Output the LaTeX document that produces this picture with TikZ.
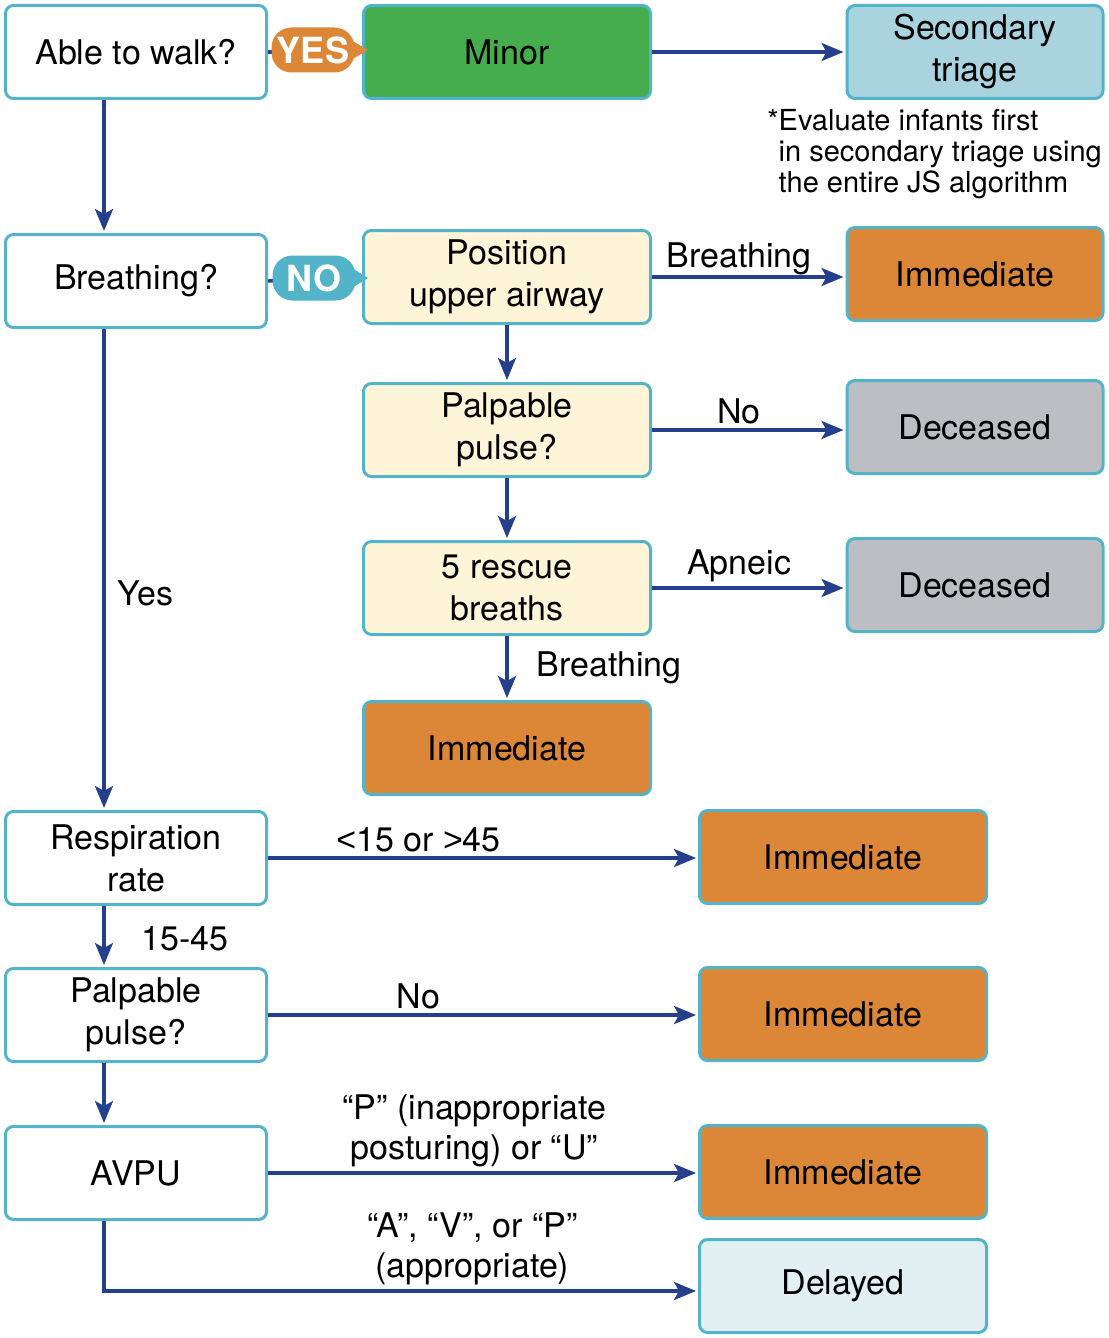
\documentclass[tikz,border=0pt]{standalone}
\usepackage{fontspec}
\setmainfont{TeX Gyre Heros}
\newfontfamily\signfont{Liberation Sans}
\usetikzlibrary{positioning,arrows.meta}

\definecolor{rim}{HTML}{52B3C9}
\definecolor{flow}{HTML}{243F8C}
\definecolor{leaf}{HTML}{46AD4E}
\definecolor{sky}{HTML}{A9D4DF}
\definecolor{tangerine}{HTML}{DC8737}
\definecolor{cream}{HTML}{FEF5D9}
\definecolor{ash}{HTML}{BDBEC1}
\definecolor{frost}{HTML}{E2F0F4}

\begin{document}
\begin{tikzpicture}[x=0.5pt, y=-0.5pt,
    box/.style={rectangle, draw=rim, fill=#1, line width=1.5pt, rounded corners=4pt, minimum width=130.5pt, minimum height=46.5pt, align=center, font=\fontsize{17}{21}\selectfont, inner sep=2pt},
    box/.default=white,
    midbox/.style={box=#1, minimum width=143.5pt},
    sidebox/.style={box=#1, minimum width=128pt},
    tag/.style={fill=#1, rounded corners=10pt, minimum width=41.5pt, minimum height=22.5pt, inner sep=0pt, text=white, font=\bfseries\fontsize{18}{18}\selectfont},
    note/.style={align=left, inner sep=0pt, font=\fontsize{14.5}{15.5}\selectfont},
    lbl/.style={font=\fontsize{17}{20}\selectfont, inner sep=2pt},
    link/.style={draw=flow, line width=1.7pt},
    arrow/.style={link, -{Stealth[length=11pt, width=9pt, inset=2.5pt]}, shorten >=1pt}
]
\useasboundingbox (0,0) rectangle (1108,1338);

% Entry column
\node[box] (walk) at (136,52) {Able to walk?};
\node[box] (breath) at (136,281) {Breathing?};
\node[box] (resp) at (136,858) {Respiration\\rate};
\node[box] (pulseB) at (136,1015) {Palpable\\pulse?};
\node[box] (avpu) at (136,1173) {AVPU};

% Airway column
\node[midbox=leaf] (minor) at (507,52) {Minor};
\node[midbox=cream] (airway) at (507,277) {Position\\upper airway};
\node[midbox=cream] (pulseA) at (507,430) {Palpable\\pulse?};
\node[midbox=cream] (rescue) at (507,588) {5 rescue\\breaths};
\node[midbox=tangerine] (immB) at (507,748) {Immediate};

% Outcomes
\node[sidebox=sky] (second) at (975,52) {Secondary\\triage};
\node[sidebox=tangerine] (immA) at (975,274) {Immediate};
\node[sidebox=ash] (deadA) at (975,427) {Deceased};
\node[sidebox=ash] (deadB) at (975,585) {Deceased};
\node[midbox=tangerine] (immC) at (843,857) {Immediate};
\node[midbox=tangerine] (immD) at (843,1014) {Immediate};
\node[midbox=tangerine] (immE) at (843,1172) {Immediate};
\node[midbox=frost] (delayed) at (843,1286) {Delayed};

\node[note, anchor=north west] (infants) at (767,109) {*Evaluate infants first\\\hphantom{*}in secondary triage using\\\hphantom{*}the entire JS algorithm};

% Arrows
\draw[arrow] (minor.east) -- (second.west |- minor.east);
\draw[arrow] ([xshift=-16pt]walk.south) -- ([xshift=-16pt]breath.north);
\draw[arrow] ([xshift=-16pt]breath.south) -- node[lbl, right, pos=0.55, xshift=4pt] {Yes} ([xshift=-16pt]resp.north);
\draw[arrow] (airway.east) -- node[lbl, above, pos=0.45, inner sep=0pt] {Breathing} (airway.east -| immA.west);
\draw[arrow] (airway.south) -- (pulseA.north);
\draw[arrow] (pulseA.east) -- node[lbl, above, pos=0.45] {No} (pulseA.east -| deadA.west);
\draw[arrow] (pulseA.south) -- (rescue.north);
\draw[arrow] (rescue.east) -- node[lbl, above, pos=0.45] {Apneic} (rescue.east -| deadB.west);
\draw[arrow] (rescue.south) -- node[lbl, right, xshift=12pt] {Breathing} (immB.north);
\draw[arrow] (resp.east) -- node[lbl, above, pos=0.35] {{\signfont<}15 or {\signfont>}45} (resp.east -| immC.west);
\draw[arrow] ([xshift=-16pt]resp.south) -- node[lbl, right, xshift=16pt, yshift=-1pt] {15-45} ([xshift=-16pt]pulseB.north);
\draw[arrow] (pulseB.east) -- node[lbl, above, pos=0.35] {No} (pulseB.east -| immD.west);
\draw[arrow] ([xshift=-16pt]pulseB.south) -- ([xshift=-16pt]avpu.north);
\draw[arrow] (avpu.east) -- node[lbl, above, pos=0.48, align=center] {“P” (inappropriate\\posturing) or “U”} (avpu.east -| immE.west);
\draw[arrow] ([xshift=-16pt]avpu.south) |- node[lbl, above, pos=0.81, align=center] {“A”, “V”, or “P”\\(appropriate)} ([yshift=-2.5pt]delayed.west);

% YES / NO tags
\draw[link] (walk.east) -- (minor.west);
\node[tag=tangerine] (yes) at (313,50) {YES};
\fill[tangerine] ([xshift=-2pt, yshift=5pt]yes.east) -- ([xshift=3pt]minor.west |- yes.east) -- ([xshift=-2pt, yshift=-5pt]yes.east) -- cycle;

\draw[link] (breath.east) -- (airway.west);
\node[tag=rim] (no) at (314,278) {NO};
\fill[rim] ([xshift=-2pt, yshift=5pt]no.east) -- ([xshift=3pt]airway.west |- no.east) -- ([xshift=-2pt, yshift=-5pt]no.east) -- cycle;

\end{tikzpicture}
\end{document}
